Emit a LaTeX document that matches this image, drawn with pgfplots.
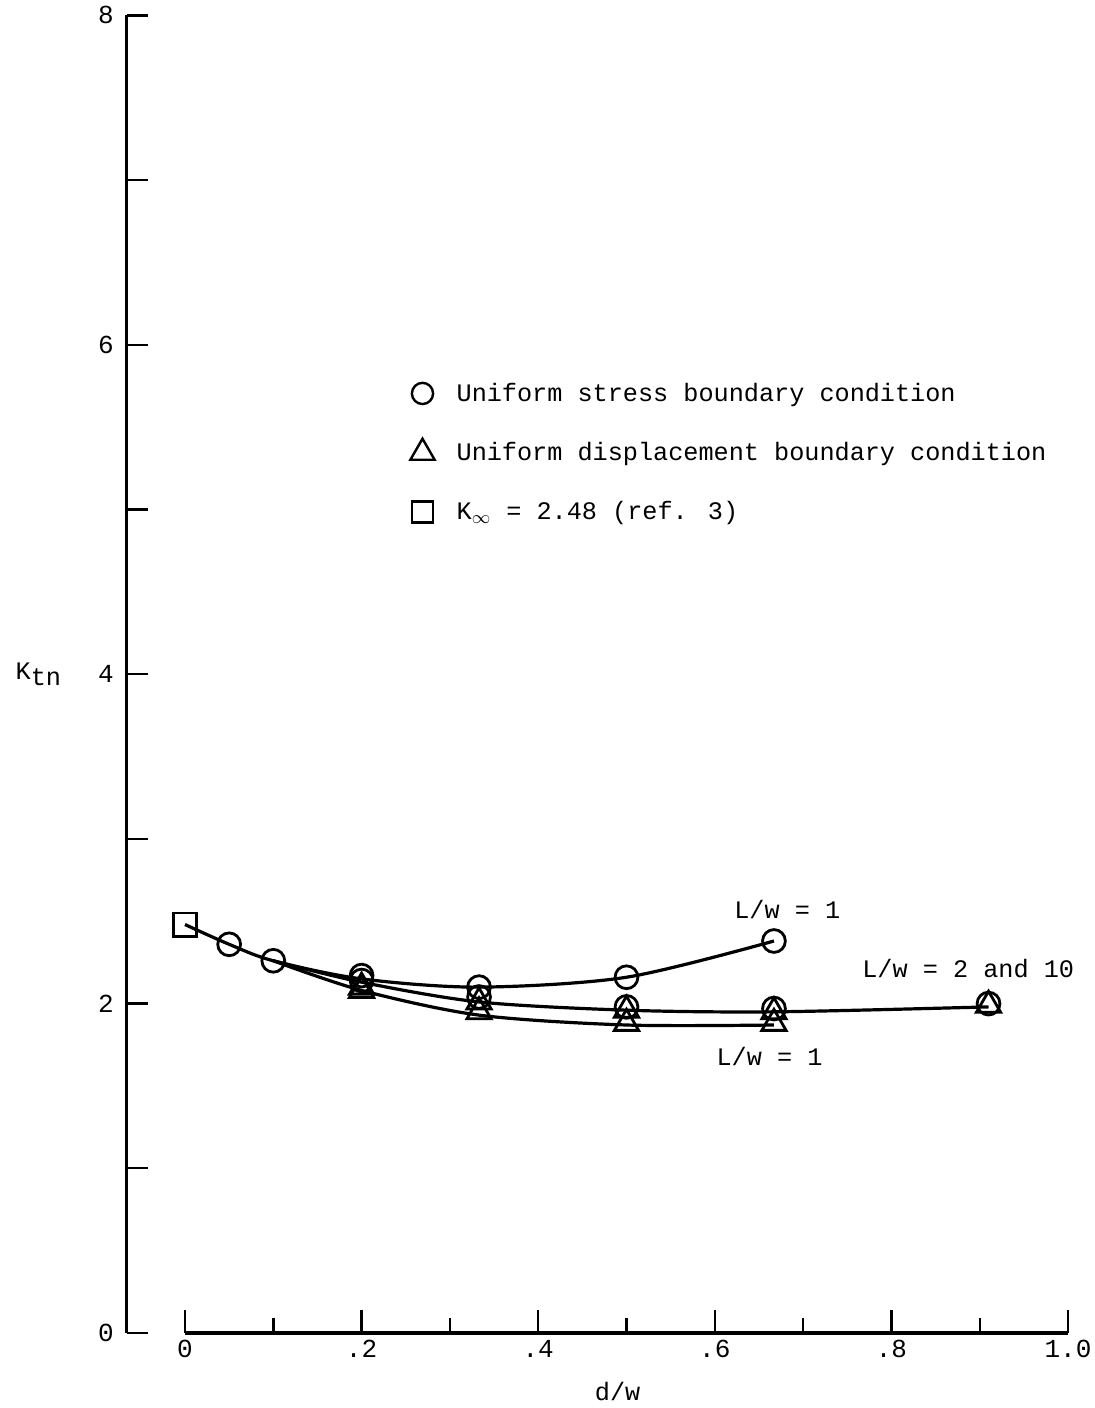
\documentclass[border=0pt]{standalone}
\usepackage{pgfplots}
\pgfplotsset{compat=1.18}
\usepackage{fontspec}
\setmainfont{Liberation Mono}

% 1 px of the scan = 0.5pt; origin of the d/w axis sits at tikz (0,0)
\pgfplotsset{
  scan/.style={
    x=441.5pt, y=82.35pt,
    at={(0,0)}, anchor=origin,
    ymin=0, ymax=8,
    clip=false,
    /pgf/number format/assume math mode=true,
    ticklabel style={font=\fontsize{13}{15}\selectfont},
  },
  fixlines/.style={
    tick align=inside,
    axis line style={line width=1.7pt},
    every outer x axis line/.append style={-},
    every outer y axis line/.append style={-},
    x axis line style={-}, y axis line style={-},
    tick style={line width=1.2pt, black},
  },
  curve/.style={black, line width=1.6pt, smooth, tension=0.5, no marks, forget plot},
  circ/.style={only marks, mark=o, mark size=5.7pt, mark options={fill=white, line width=1.4pt}, forget plot},
  tri/.style={only marks, mark=triangle, mark size=7pt, mark options={fill=white, line width=1.4pt}, forget plot},
  sq/.style={only marks, mark=square, mark size=5.8pt, mark options={fill=white, line width=1.4pt}, forget plot},
}

\begin{document}
\begin{tikzpicture}
% y axis (Ktn), data and legend
\begin{axis}[scan,
  xmin=-0.066, xmax=1.0,
  axis x line=none, axis y line=left,
  fixlines,
  ytick={0,2,4,6,8}, minor ytick={1,3,5,7},
  major tick length=10.5pt, minor tick length=10.5pt,
  yticklabel style={xshift=-3pt},
  legend style={draw=none, fill=none, at={(axis cs:0.248,5.82)}, anchor=north west,
    font=\fontsize{12.6}{15}\selectfont, row sep=15pt,
    /tikz/every odd column/.append style={column sep=9pt}},
  legend cell align=left,
]
  % curves
  \addplot[curve] coordinates {(0,2.48) (0.05,2.36) (0.1,2.26) (0.2,2.15) (0.333,2.10) (0.5,2.16) (0.667,2.38)};
  \addplot[curve] coordinates {(0.1,2.26) (0.2,2.13) (0.333,2.01) (0.5,1.96) (0.667,1.95) (0.91,1.98)};
  \addplot[curve] coordinates {(0.1,2.26) (0.2,2.08) (0.333,1.93) (0.5,1.87) (0.667,1.87)};
  % uniform displacement, L/w = 2 and 10
  \addplot[tri] coordinates {(0.2,2.10) (0.333,2.01) (0.5,1.96) (0.667,1.95) (0.91,1.99)};
  % uniform stress, L/w = 2 and 10
  \addplot[circ] coordinates {(0.2,2.14) (0.333,2.04) (0.5,1.98) (0.667,1.97) (0.91,2.00)};
  % uniform displacement, L/w = 1
  \addplot[tri] coordinates {(0.2,2.08) (0.333,1.95) (0.5,1.88) (0.667,1.88)};
  % uniform stress, L/w = 1
  \addplot[circ] coordinates {(0.05,2.36) (0.1,2.26) (0.2,2.17) (0.333,2.10) (0.5,2.16) (0.667,2.38)};
  % K infinity
  \addplot[sq] coordinates {(0,2.48)};

  \addlegendimage{only marks, mark=o, mark size=5.3pt, mark options={line width=1.2pt}}
  \addlegendentry{Uniform stress boundary condition}
  \addlegendimage{only marks, mark=triangle, mark size=7pt, mark options={line width=1.2pt}}
  \addlegendentry{Uniform displacement boundary condition}
  \addlegendimage{only marks, mark=square, mark size=5.3pt, mark options={line width=1.2pt}}
  \addlegendentry{K$_\infty$ = 2.48 (ref. 3)}

  \node[font=\fontsize{12.6}{15}\selectfont] at (axis cs:0.682,2.57) {L/w = 1};
  \node[font=\fontsize{12.6}{15}\selectfont] at (axis cs:0.887,2.21) {L/w = 2 and 10};
  \node[font=\fontsize{12.6}{15}\selectfont] at (axis cs:0.662,1.68) {L/w = 1};
  \node[font=\fontsize{12.6}{15}\selectfont] at (axis cs:-0.166,4.0) {K\raisebox{-0.5ex}{tn}};
\end{axis}
% d/w axis, drawn on its own from 0 to 1.0
\begin{axis}[scan,
  xmin=0, xmax=1.0,
  axis y line=none, axis x line=bottom,
  fixlines,
  xtick={0,0.2,0.4,0.6,0.8,1.0}, minor xtick={0.1,0.3,0.5,0.7,0.9},
  xticklabels={0,.2,.4,.6,.8,1.0},
  major tick length=11.5pt, minor tick length=7.5pt,
]
  \node[font=\fontsize{12.6}{15}\selectfont] at (axis cs:0.49,0) [yshift=-29.5pt] {d/w};
\end{axis}
\pgfresetboundingbox
\path[use as bounding box] (-92.5pt,-37.5pt) rectangle (454.5pt,666.5pt);
\end{tikzpicture}
\end{document}
